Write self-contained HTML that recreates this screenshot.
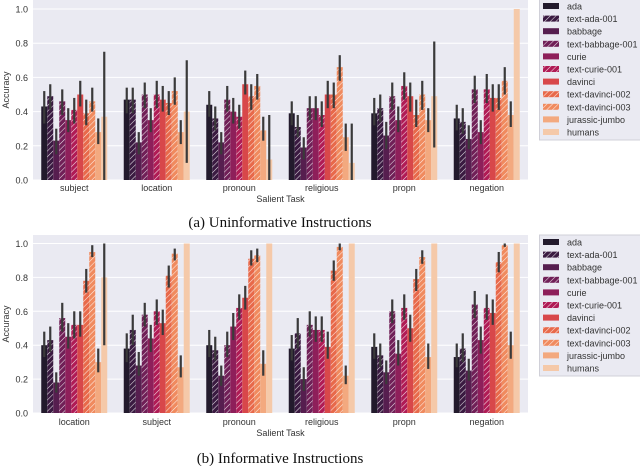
<!DOCTYPE html>
<html><head><meta charset="utf-8"><style>
body{margin:0;background:#fff;width:640px;height:466px;overflow:hidden}
svg{display:block;font-family:"Liberation Sans",sans-serif}
</style></head><body>
<svg id="chart" width="640" height="466"></svg>
<script>
const models=["ada","text-ada-001","babbage","text-babbage-001","curie","text-curie-001","davinci","text-davinci-002","text-davinci-003","jurassic-jumbo","humans"];
const colors=["#221a2c","#3a1a41","#561e4f","#701f57","#8e1f5a","#b01b55","#d8474a","#e8694a","#f08a5e","#f3a97f","#f5c9a9"];
const hatched=[false,true,false,true,false,true,false,true,true,false,false];
const yTicks=[0,0.2,0.4,0.6,0.8,1.0];
const tasksA=["subject","location","pronoun","religious","propn","negation"];
const valsA=[
[0.43,0.49,0.23,0.46,0.35,0.41,0.50,0.39,0.46,0.28,0.37],
[0.47,0.47,0.22,0.50,0.35,0.50,0.47,0.45,0.52,0.28,0.40],
[0.44,0.36,0.22,0.47,0.40,0.37,0.56,0.49,0.55,0.29,0.12],
[0.39,0.31,0.19,0.42,0.42,0.38,0.50,0.50,0.66,0.25,0.10],
[0.39,0.42,0.26,0.49,0.35,0.55,0.49,0.38,0.50,0.35,0.49],
[0.36,0.34,0.24,0.53,0.28,0.53,0.48,0.48,0.58,0.38,1.0]];
const lowA=[
[0.33,0.41,0.15,0.38,0.28,0.33,0.43,0.32,0.40,0.21,0.0],
[0.39,0.39,0.15,0.42,0.28,0.42,0.40,0.38,0.44,0.21,0.10],
[0.37,0.29,0.15,0.40,0.33,0.30,0.50,0.41,0.47,0.23,0.0],
[0.32,0.25,0.12,0.35,0.35,0.31,0.42,0.42,0.58,0.17,0.0],
[0.32,0.34,0.18,0.41,0.28,0.47,0.40,0.31,0.41,0.28,0.19],
[0.29,0.27,0.18,0.45,0.21,0.45,0.40,0.41,0.50,0.31,1.0]];
const highA=[
[0.52,0.56,0.30,0.53,0.42,0.48,0.58,0.47,0.54,0.36,0.75],
[0.54,0.54,0.28,0.57,0.42,0.58,0.55,0.52,0.60,0.35,0.70],
[0.52,0.43,0.28,0.55,0.48,0.44,0.64,0.56,0.62,0.37,0.38],
[0.46,0.38,0.25,0.49,0.49,0.46,0.58,0.57,0.73,0.33,0.33],
[0.48,0.50,0.34,0.57,0.43,0.63,0.57,0.47,0.58,0.42,0.81],
[0.44,0.42,0.32,0.61,0.35,0.62,0.56,0.56,0.66,0.46,1.0]];
const tasksB=["location","subject","pronoun","religious","propn","negation"];
const valsB=[
[0.40,0.43,0.18,0.56,0.45,0.52,0.52,0.78,0.95,0.30,0.80],
[0.38,0.49,0.28,0.58,0.44,0.60,0.53,0.81,0.94,0.27,1.0],
[0.40,0.37,0.22,0.40,0.51,0.62,0.68,0.91,0.93,0.29,1.0],
[0.38,0.47,0.20,0.52,0.49,0.49,0.39,0.84,0.98,0.22,1.0],
[0.39,0.34,0.24,0.60,0.35,0.62,0.50,0.79,0.92,0.33,1.0],
[0.33,0.38,0.25,0.64,0.43,0.62,0.59,0.89,0.99,0.40,1.0]];
const lowB=[
[0.33,0.36,0.12,0.48,0.38,0.44,0.45,0.71,0.92,0.24,0.40],
[0.30,0.40,0.22,0.51,0.36,0.52,0.46,0.74,0.90,0.21,1.0],
[0.33,0.31,0.16,0.33,0.43,0.55,0.61,0.87,0.89,0.22,1.0],
[0.31,0.38,0.13,0.45,0.42,0.42,0.32,0.78,0.96,0.17,1.0],
[0.32,0.27,0.17,0.53,0.28,0.55,0.42,0.72,0.88,0.26,1.0],
[0.27,0.30,0.19,0.56,0.35,0.55,0.52,0.83,0.98,0.32,1.0]];
const highB=[
[0.48,0.51,0.24,0.65,0.53,0.60,0.60,0.85,0.99,0.38,1.0],
[0.47,0.58,0.36,0.65,0.52,0.67,0.61,0.87,0.97,0.34,1.0],
[0.49,0.45,0.28,0.48,0.59,0.70,0.75,0.96,0.97,0.37,1.0],
[0.46,0.56,0.27,0.60,0.57,0.57,0.48,0.90,1.0,0.28,1.0],
[0.47,0.41,0.31,0.67,0.43,0.70,0.58,0.85,0.96,0.41,1.0],
[0.41,0.47,0.32,0.72,0.51,0.70,0.67,0.95,1.0,0.48,1.0]];

const NS="http://www.w3.org/2000/svg";
const svg=document.getElementById('chart');
function mk(tag,attrs,parent){const e=document.createElementNS(NS,tag);for(const k in attrs)e.setAttribute(k,attrs[k]);(parent||svg).appendChild(e);return e;}
const defs=mk('defs',{});
colors.forEach((c,i)=>{
  const p=mk('pattern',{id:'h'+i,patternUnits:'userSpaceOnUse',width:4,height:4,patternTransform:'rotate(45)'},defs);
  mk('rect',{width:4,height:4,fill:c},p);
  mk('line',{x1:0,y1:0,x2:0,y2:4,stroke:'#fff','stroke-width':1.1,'stroke-opacity':0.85},p);
});
function fillFor(i){return hatched[i]?'url(#h'+i+')':colors[i];}

function panel(id,top,y0,y1,tasks,vals,low,high,xlabY,capY,caption,legTop){
  const L=33,R=528;
  const g=mk('g',{});
  
  
  const ys=v=>y0+(y1-y0)*v;
  const bg=mk('rect',{x:L,y:top,width:R-L,height:y0-top,fill:'#eaeaf2'},g);
  
  
  yTicks.forEach(t=>{
    mk('line',{x1:L,x2:R,y1:ys(t),y2:ys(t),stroke:'#fff','stroke-width':1},g);
    const tx=mk('text',{x:L-5,y:ys(t)+3.5,'font-size':9,fill:'#333','text-anchor':'end'},g);
    tx.textContent=t.toFixed(1);
    
    
  });
  const gw=(R-L)/tasks.length, bw=gw*0.8/models.length;
  tasks.forEach((task,ti)=>{
    const cx=L+gw*(ti+0.5);
    models.forEach((m,mi)=>{
      const x=cx-gw*0.4+bw*mi;
      const b=mk('rect',{x:x,y:ys(vals[ti][mi]),width:bw,height:ys(0)-ys(vals[ti][mi]),fill:fillFor(mi)},g);
      
      
      if(high[ti][mi]-low[ti][mi]>0.005){
        const e=mk('line',{x1:x+bw/2,x2:x+bw/2,y1:ys(low[ti][mi]),y2:ys(high[ti][mi]),stroke:'#3a3a3a','stroke-width':2.2},g);
        
        
      }
    });
    const tl=mk('text',{x:cx,y:xlabY-8,'font-size':9,fill:'#333','text-anchor':'middle'},g);
    tl.textContent=task;
    
    
  });
  const xt=mk('text',{x:(L+R)/2,y:xlabY+3,'font-size':9,fill:'#333','text-anchor':'middle'},g);
  xt.textContent='Salient Task';
  
  
  const yt=mk('text',{x:0,y:0,'font-size':9,fill:'#333','text-anchor':'middle',transform:`translate(9,${(top+y0)/2}) rotate(-90)`},g);
  yt.textContent='Accuracy';
  
  
  const cp=mk('text',{x:280,y:capY,'font-size':15,fill:'#111','text-anchor':'middle','font-family':'"Liberation Serif",serif'},g);
  cp.textContent=caption;
  
  
  const lg=mk('g',{},g);
  
  
  mk('rect',{x:539.5,y:legTop,width:105,height:141,fill:'#eaeaf2',stroke:'#d0d0d8'},lg);
  models.forEach((m,mi)=>{
    const yy=legTop+7+mi*12.6;
    const s=mk('rect',{x:543,y:yy-3,width:16,height:6,fill:fillFor(mi)},lg);
    
    
    const t=mk('text',{x:567,y:yy+3.5,'font-size':9,fill:'#333'},lg);
    t.textContent=m;
    
    
  });
}
panel('panel-uninformative',0,180,9,tasksA,valsA,lowA,highA,199,227,'(a) Uninformative Instructions',-1);
panel('panel-informative',235,413,243.5,tasksB,valsB,lowB,highB,433,463,'(b) Informative Instructions',235);
</script>
</body></html>
